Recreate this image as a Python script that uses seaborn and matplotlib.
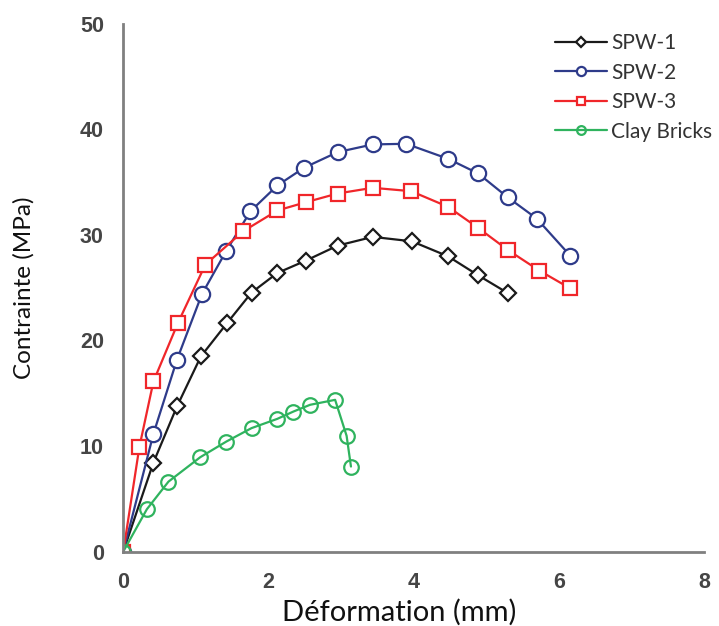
import matplotlib
matplotlib.use("Agg")
import matplotlib.pyplot as plt
import seaborn as sns
import pandas as pd

# Data
spw1_x = [0, 0.415, 0.739, 1.068, 1.430, 1.766, 2.122, 2.514, 2.952, 3.436, 3.975, 4.473, 4.888, 5.293]
spw1_y = [0, 8.43, 13.74, 18.48, 21.65, 24.53, 26.39, 27.56, 28.98, 29.81, 29.39, 27.97, 26.17, 24.50]

spw2_x = [0, 0.415, 0.739, 1.084, 1.420, 1.752, 2.122, 2.490, 2.952, 3.436, 3.896, 4.473, 4.888, 5.293, 5.694, 6.155]
spw2_y = [0, 11.15, 18.17, 24.40, 28.51, 32.24, 34.68, 36.36, 37.84, 38.57, 38.63, 37.21, 35.82, 33.57, 31.55, 28.04]

spw3_x = [0, 0.221, 0.415, 0.752, 1.130, 1.651, 2.122, 2.513, 2.952, 3.436, 3.965, 4.473, 4.888, 5.303, 5.732, 6.147]
spw3_y = [0, 9.89, 16.11, 21.65, 27.18, 30.34, 32.31, 33.09, 33.92, 34.46, 34.14, 32.66, 30.66, 28.54, 26.61, 24.97]

clay_x = [0, 0.324, 0.622, 1.061, 1.420, 1.766, 2.122, 2.343, 2.573, 2.918, 3.076, 3.136]
clay_y = [0, 4.00, 6.62, 8.94, 10.42, 11.69, 12.57, 13.26, 13.90, 14.37, 10.96, 8.05]

series_names = ["SPW-1", "SPW-2", "SPW-3", "Clay Bricks"]
x_ticks = [0, 2, 4, 6, 8]
y_ticks = [0, 10, 20, 30, 40, 50]

sns.set_style("white")
plt.rcParams["font.family"] = ["Lato", "DejaVu Sans"]

fig = plt.figure(figsize=(7.19, 6.26), dpi=100)
ax = fig.add_axes([0.1715, 0.119, 0.8077, 0.843])

styles = [
    (spw1_x, spw1_y, "#1a1a1a", "D", 8.5, "white"),
    (spw2_x, spw2_y, "#2e3b8a", "o", 11, "white"),
    (spw3_x, spw3_y, "#f0262a", "s", 10, "white"),
    (clay_x, clay_y, "#2fb35e", "o", 10.5, "none"),
]
for name, (xs, ys, col, mk, ms, fc) in zip(series_names, styles):
    df = pd.DataFrame({"x": xs, "y": ys})
    sns.lineplot(data=df, x="x", y="y", ax=ax, sort=False, estimator=None,
                 color=col, linewidth=1.6, marker=mk, markersize=ms,
                 markerfacecolor=fc, markeredgecolor=col, markeredgewidth=1.6,
                 label=name)

ax.set_xlim(0, 8)
ax.set_ylim(0, 50)
ax.set_xticks(x_ticks)
ax.set_yticks(y_ticks)
tick_font = dict(family="Liberation Sans", weight="bold", size=15.5)
ax.set_xticklabels([str(v) for v in x_ticks], fontdict=tick_font, color="#454545")
ax.set_yticklabels([str(v) for v in y_ticks], fontdict=tick_font, color="#454545")
ax.tick_params(axis="both", direction="in", length=5, width=1.5, color="#808080")
ax.tick_params(axis="y", pad=14)
ax.tick_params(axis="x", pad=15)

for s in ["top", "right"]:
    ax.spines[s].set_visible(False)
for s in ["left", "bottom"]:
    ax.spines[s].set_color("#808080")
    ax.spines[s].set_linewidth(2)

ax.set_xlabel("Déformation (mm)", fontsize=21, color="#111111")
ax.set_ylabel("Contrainte (MPa)", fontsize=17.5, color="#111111")
ax.xaxis.set_label_coords(0.475, -0.09)
ax.yaxis.set_label_coords(-0.152, 0.5)

leg = ax.legend(loc="upper left", bbox_to_anchor=(555 / 719, 1 - 33 / 626),
                bbox_transform=fig.transFigure, frameon=False, borderpad=0,
                borderaxespad=0, fontsize=15, handlelength=2.5,
                handletextpad=0.2, labelspacing=0.46, markerscale=0.6)
for t in leg.get_texts():
    t.set_color("#333333")

fig.savefig("out.png", dpi=100)
